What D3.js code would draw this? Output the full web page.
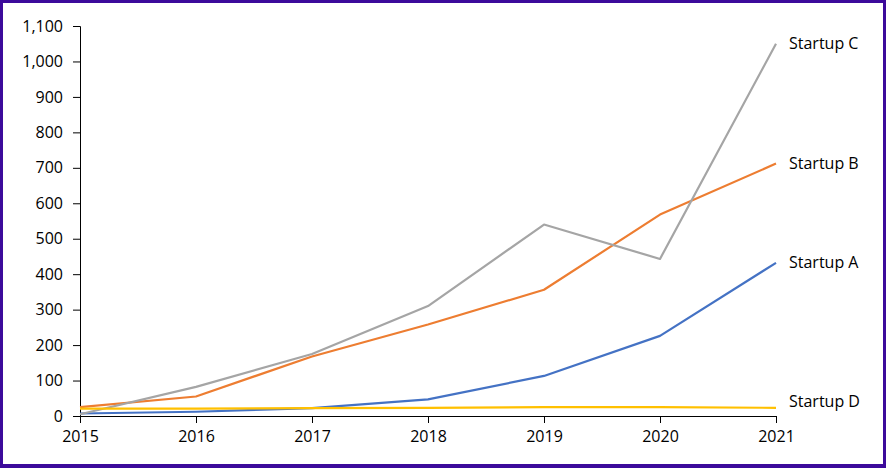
<!DOCTYPE html>
<html>
<head>
<meta charset="utf-8">
<script src="https://cdn.jsdelivr.net/npm/d3@7"></script>
<style>
  body { margin: 0; background: #fff; }
  #chart { width: 886px; height: 468px; box-sizing: border-box;
           border: 3px solid #3c0a9b; border-bottom-width: 4px; background: #fff; }
  text { font-family: "Open Sans", "Noto Sans", sans-serif; fill: #000; }
</style>
</head>
<body>
<div id="chart"></div>
<script>
const years = [2015, 2016, 2017, 2018, 2019, 2020, 2021];
const seriesNames = ["Startup A", "Startup B", "Startup C", "Startup D"];
const startupA = [7, 12, 22, 47, 113, 226, 432];
const startupB = [25, 55, 168, 258, 356, 568, 712];
const startupC = [5, 82, 175, 310, 540, 443, 1050];
const startupD = [21, 21, 22, 23, 25, 25, 23];
const colors = ["#4472c4", "#ed7d31", "#a5a5a5", "#ffc000"];
const labelNudge = [0, 0, 0, -6]; // Startup D label sits a bit above its line
const yTicks = d3.range(0, 1101, 100);

const series = [startupA, startupB, startupC, startupD].map((vals, i) => ({
  name: seriesNames[i], color: colors[i], values: vals, nudge: labelNudge[i]
}));

const width = 880, height = 461;
const margin = {left: 77, top: 23, right: 107, bottom: 48};

const svg = d3.select("#chart").append("svg")
  .attr("width", width).attr("height", height);

const x = d3.scaleLinear().domain([2015, 2021]).range([margin.left, width - margin.right]);
const y = d3.scaleLinear().domain([0, 1100]).range([height - margin.bottom, margin.top]);

// y axis
const yAxis = svg.append("g")
  .attr("transform", `translate(${margin.left},0)`)
  .call(d3.axisLeft(y).tickValues(yTicks).tickSize(7).tickPadding(10).tickFormat(d3.format(",")));
yAxis.selectAll("text").style("font-size", "16px");

// lines
const line = d3.line().x((d, i) => x(years[i])).y(d => y(d));
svg.selectAll(".series")
  .data(series)
  .enter()
  .append("path")
  .attr("class", "series")
  .attr("d", d => line(d.values))
  .attr("fill", "none")
  .attr("stroke", d => d.color)
  .attr("stroke-width", 2.2)
  .attr("stroke-linejoin", "round");

// x axis drawn over lines
const xAxis = svg.append("g")
  .attr("transform", `translate(0,${y(0)})`)
  .call(d3.axisBottom(x).tickValues(years).tickSize(7).tickPadding(8).tickFormat(d3.format("d")));
xAxis.selectAll("text").style("font-size", "16px");
svg.selectAll(".domain, .tick line").attr("stroke", "#000");

// end labels
svg.selectAll(".lbl")
  .data(series)
  .enter()
  .append("text")
  .attr("class", "lbl")
  .attr("x", x(2021) + 13)
  .attr("y", d => y(d.values[d.values.length - 1]) + d.nudge)
  .attr("dy", "0.35em")
  .style("font-size", "16px")
  .text(d => d.name);
</script>
</body>
</html>
